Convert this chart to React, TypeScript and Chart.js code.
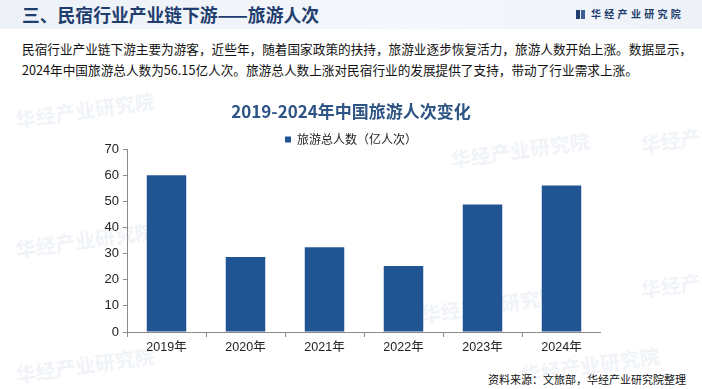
import React, { useEffect, useRef } from "react";
import { Chart, registerables } from "chart.js";

Chart.register(...registerables);

const categories = ["2019年", "2020年", "2021年", "2022年", "2023年", "2024年"];
const seriesName = "旅游总人数（亿人次）";
const touristValues = [60.06, 28.79, 32.46, 25.3, 48.91, 56.15];
const yTicks = [0, 10, 20, 30, 40, 50, 60, 70];

const headerTitle = "三、民宿行业产业链下游——旅游人次";
const brandName = "华经产业研究院";
const paragraphLines = [
  "民宿行业产业链下游主要为游客，近些年，随着国家政策的扶持，旅游业逐步恢复活力，旅游人数开始上涨。数据显示，",
  "2024年中国旅游总人数为56.15亿人次。旅游总人数上涨对民宿行业的发展提供了支持，带动了行业需求上涨。",
];
const chartTitle = "2019-2024年中国旅游人次变化";
const sourceText = "资料来源：文旅部，华经产业研究院整理";

const watermarks = [
  { x: 15, y: 95, r: -8 },
  { x: 450, y: 135, r: -8 },
  { x: 640, y: 120, r: -8 },
  { x: 15, y: 225, r: -8 },
  { x: 420, y: 290, r: -8 },
  { x: 640, y: 265, r: -8 },
  { x: 15, y: 350, r: -8 },
  { x: 520, y: 350, r: -8 },
];

const CJK = '"Noto Sans CJK SC", "Noto Sans", sans-serif';
const LAT = '"Liberation Sans", "Noto Sans CJK SC", sans-serif';

const legendTrim = {
  id: "legendTrim",
  afterInit(chart: any) {
    const lg = chart.legend;
    if (lg && !lg.__trimmed) {
      const orig = lg.fit.bind(lg);
      lg.fit = function () {
        orig();
        this.height = Math.max(0, this.height - 6);
      };
      lg.__trimmed = true;
    }
  },
};

export default function App() {
  const canvasRef = useRef<HTMLCanvasElement | null>(null);

  useEffect(() => {
    document.body.style.margin = "0";
    const canvas = canvasRef.current;
    if (!canvas) return;
    const chart = new Chart(canvas, {
      type: "bar",
      data: {
        labels: categories,
        datasets: [
          {
            label: seriesName,
            data: touristValues,
            backgroundColor: "#215493",
            borderWidth: 0,
            categoryPercentage: 1,
            barPercentage: 0.5,
          },
        ],
      },
      plugins: [legendTrim],
      options: {
        animation: false,
        responsive: false,
        maintainAspectRatio: false,
        layout: { padding: { left: 101, right: 0, top: 1, bottom: 4 } },
        plugins: {
          tooltip: { enabled: false },
          title: {
            display: true,
            text: chartTitle,
            color: "#2e5585",
            font: { family: CJK, size: 17, weight: "bold" },
            padding: { top: 0, bottom: 10 },
          },
          legend: {
            display: true,
            position: "top",
            labels: {
              boxWidth: 6,
              boxHeight: 6,
              padding: 2,
              color: "#222",
              font: { family: CJK, size: 12 },
            },
          },
        },
        scales: {
          x: {
            afterFit: (s: any) => {
              s.height = 24;
            },
            grid: {
              display: true,
              drawOnChartArea: false,
              drawTicks: true,
              tickLength: 5,
              color: "#8a8a8a",
              offset: true,
            },
            border: { display: true, color: "#8a8a8a" },
            ticks: {
              color: "#222",
              padding: 3,
              font: { family: LAT, size: 12.5 },
            },
          },
          y: {
            min: 0,
            max: 70,
            afterFit: (s: any) => {
              s.width = 26;
            },
            afterBuildTicks: (s: any) => {
              s.ticks = yTicks.map((v) => ({ value: v }));
            },
            grid: {
              display: true,
              drawOnChartArea: false,
              drawTicks: true,
              tickLength: 4,
              color: "#8a8a8a",
            },
            border: { display: true, color: "#8a8a8a" },
            ticks: {
              color: "#222",
              padding: 4,
              font: { family: LAT, size: 13 },
            },
          },
        },
      },
    });
    return () => chart.destroy();
  }, []);

  return (
    <div
      style={{
        position: "relative",
        width: 702,
        height: 389,
        overflow: "hidden",
        background: "#ffffff",
        fontFamily: CJK,
      }}
    >
      {watermarks.map((w, i) => (
        <div
          key={i}
          style={{
            position: "absolute",
            left: w.x,
            top: w.y,
            transform: `rotate(${w.r}deg)`,
            fontSize: 20,
            fontWeight: "bold",
            color: "rgba(205,214,228,0.3)",
            whiteSpace: "nowrap",
          }}
        >
          {brandName}
        </div>
      ))}
      <div
        style={{
          position: "absolute",
          left: 0,
          top: 0,
          width: 702,
          height: 29,
          background: "linear-gradient(to right, #edf2f8, #f4f7fb 60%, #eef2f8)",
        }}
      />
      <div
        style={{
          position: "absolute",
          left: 22,
          top: 3,
          fontSize: 17.8,
          lineHeight: "22px",
          fontWeight: "bold",
          color: "#1f3d6e",
          whiteSpace: "nowrap",
        }}
      >
        {headerTitle}
      </div>
      <div
        style={{
          position: "absolute",
          left: 576,
          top: 10,
          width: 4,
          height: 9,
          background: "#1f3d6e",
        }}
      />
      <div
        style={{
          position: "absolute",
          left: 581,
          top: 10,
          width: 4,
          height: 9,
          background: "#3a5f95",
        }}
      />
      <div
        style={{
          position: "absolute",
          left: 591,
          top: 7,
          fontSize: 10,
          lineHeight: "14px",
          fontWeight: "bold",
          letterSpacing: 3.3,
          color: "#1f3d6e",
          whiteSpace: "nowrap",
        }}
      >
        {brandName}
      </div>
      {paragraphLines.map((line, i) => (
        <div
          key={i}
          style={{
            position: "absolute",
            left: 22,
            top: 39 + i * 21,
            fontSize: 12.65,
            lineHeight: "20px",
            color: "#111",
            whiteSpace: "nowrap",
          }}
        >
          {line}
        </div>
      ))}
      <canvas
        ref={canvasRef}
        width={601}
        height={260}
        style={{ position: "absolute", left: 0, top: 100, width: 601, height: 260 }}
      />
      <div
        style={{
          position: "absolute",
          right: 16,
          top: 371,
          fontSize: 11,
          lineHeight: "16px",
          color: "#111",
          whiteSpace: "nowrap",
        }}
      >
        {sourceText}
      </div>
    </div>
  );
}
